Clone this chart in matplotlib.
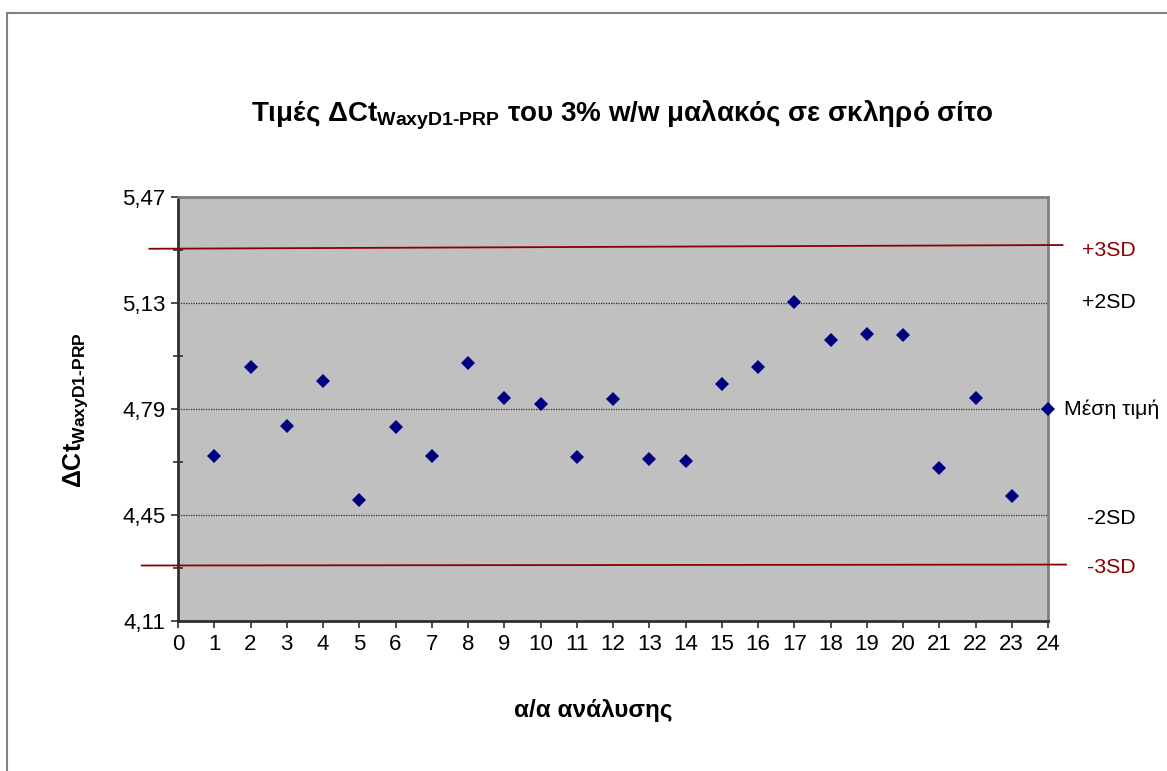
import numpy as np
import matplotlib
matplotlib.use("Agg")
import matplotlib.pyplot as plt
from matplotlib.patches import Rectangle
from matplotlib.ticker import FixedLocator, FuncFormatter

plt.rcParams['font.family'] = ['Liberation Sans', 'DejaVu Sans']
plt.rcParams['mathtext.fontset'] = 'custom'
plt.rcParams['mathtext.rm'] = 'Liberation Sans'
plt.rcParams['mathtext.bf'] = 'Liberation Sans:bold'
plt.rcParams['mathtext.it'] = 'Liberation Sans:italic'

# data
runs = np.arange(1, 24)
dct = [4.640, 4.925, 4.737, 4.879, 4.497, 4.732, 4.640, 4.939, 4.825, 4.806,
       4.636, 4.821, 4.631, 4.622, 4.869, 4.924, 5.133, 5.011, 5.030, 5.027,
       4.602, 4.824, 4.512]
mean_val = 4.79
mean_x = 24
yticks = [4.11, 4.45, 4.79, 5.13, 5.47]
yminor = [4.28, 4.62, 4.96, 5.30]
plus3_x = [-0.79, 24.4]
plus3_y = [5.304, 5.316]
minus3_x = [-1.0, 24.5]
minus3_y = [4.288, 4.291]
side_labels = ['+3SD', '+2SD', 'Μέση τιμή', '-2SD', '-3SD']
side_y = [5.30, 5.13, 4.79, 4.44, 4.282]
side_x = [24.94, 24.94, 24.44, 25.08, 25.08]
side_col = ['#8B0000', 'black', 'black', 'black', '#8B0000']

W, H = 1167, 771
fig = plt.figure(figsize=(W / 100, H / 100), dpi=100)
ax = fig.add_axes([178 / W, 1 - 621 / H, 870 / W, 424 / H])
ax.set_facecolor('#C0C0C0')

ax.plot(runs, dct, 'D', color='#000080', ms=7.5, mew=0, zorder=3)
ax.plot([mean_x], [mean_val], 'D', color='#000080', ms=7.5, mew=0, zorder=3, clip_on=False)

ax.plot(plus3_x, plus3_y, color='#8B0000', lw=1.3, clip_on=False, zorder=4)
ax.plot(minus3_x, minus3_y, color='#8B0000', lw=1.3, clip_on=False, zorder=4)

ax.set_xlim(0, 24)
ax.set_ylim(4.11, 5.47)
ax.set_xticks(np.arange(0, 25))
ax.yaxis.set_major_locator(FixedLocator(yticks))
ax.yaxis.set_minor_locator(FixedLocator(yminor))
ax.yaxis.set_major_formatter(FuncFormatter(lambda v, p: f'{v:.2f}'.replace('.', ',')))
ax.grid(axis='y', which='major', color='#303030', ls=(0, (1, 1)), lw=0.9)
ax.tick_params(axis='both', which='major', labelsize=16, direction='out', length=5,
               width=1.2, color='#303030', pad=4)
ax.tick_params(axis='y', which='minor', direction='inout', length=7, width=1.2, color='#303030')

for s in ['left', 'bottom']:
    ax.spines[s].set_color('#303030')
    ax.spines[s].set_linewidth(2)
for s in ['top', 'right']:
    ax.spines[s].set_color('#808080')
    ax.spines[s].set_linewidth(2)

for lab, yy, xx, c in zip(side_labels, side_y, side_x, side_col):
    ax.text(xx, yy, lab, color=c, fontsize=15.3, ha='left', va='center', clip_on=False)

fig.text(622 / W, 1 - 115 / H,
         r'Τιμές ΔCt$_{\mathbf{WaxyD1‐PRP}}$ του 3% w/w μαλακός σε σκληρό σίτο',
         fontsize=20, fontweight='bold', ha='center', va='center')
fig.text(593 / W, 1 - 711 / H, 'α/α ανάλυσης', fontsize=17.5, fontweight='bold',
         ha='center', va='center')
fig.text(76 / W, 1 - 410 / H, r'ΔCt$_{\mathbf{WaxyD1‐PRP}}$', fontsize=18,
         fontweight='bold', rotation=90, ha='center', va='center')

fig.add_artist(Rectangle((7 / W, -0.1), 2, 1.1 - 13 / H, transform=fig.transFigure,
                         fill=False, edgecolor='#808080', lw=1.5))

fig.savefig('out.png', dpi=100)
